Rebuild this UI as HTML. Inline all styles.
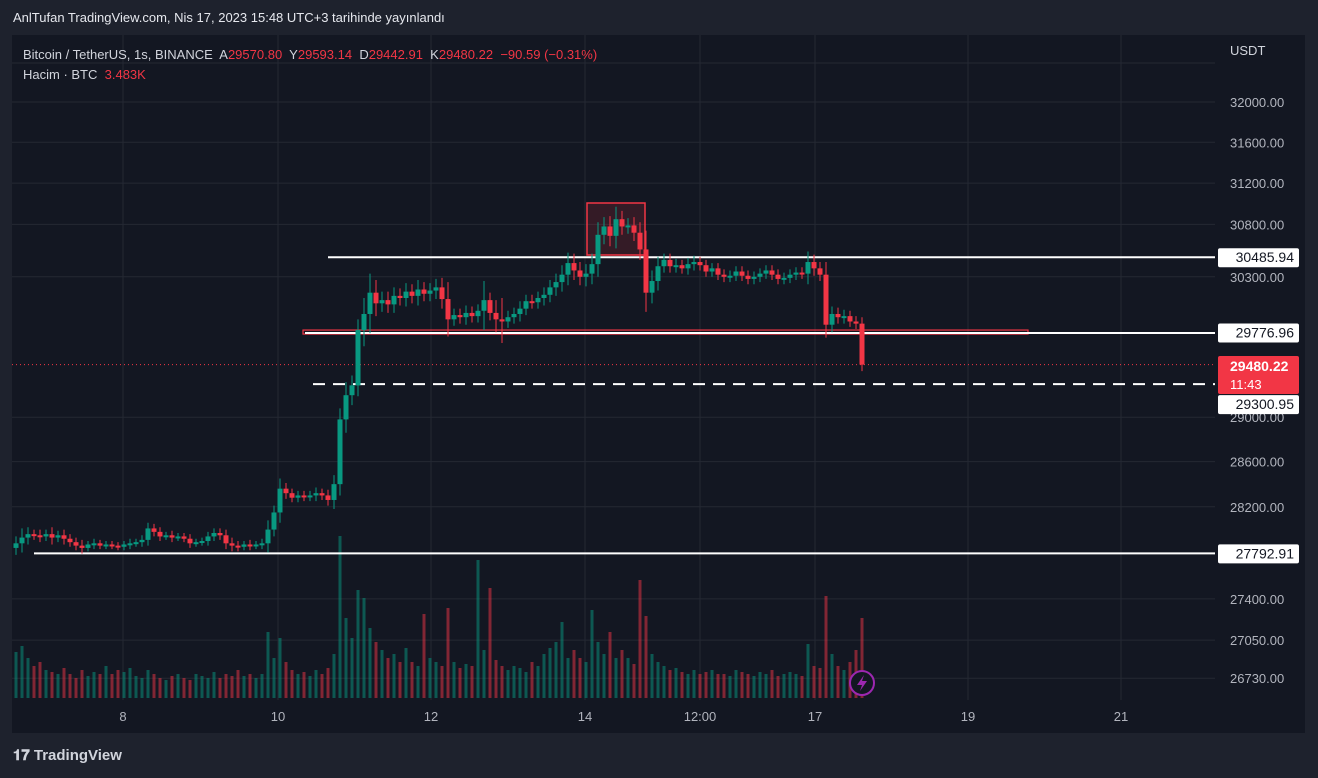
<!DOCTYPE html>
<html><head><meta charset="utf-8">
<style>
body{margin:0;width:1318px;height:778px;background:#1e222d;overflow:hidden;font-family:"Liberation Sans",sans-serif;}
#title{position:absolute;left:13px;top:10px;color:#e6e8ee;font-size:13px;}
#foot{position:absolute;left:13px;top:747px;color:#d1d4dc;font-size:15px;font-weight:bold;}
svg{position:absolute;left:0;top:0;}
</style></head><body>
<div id="title">AnlTufan TradingView.com, Nis 17, 2023 15:48 UTC+3 tarihinde yayınlandı</div>
<div id="foot"><span style="font-weight:900">𝟏𝟕</span> TradingView</div>
<svg id="c" width="1318" height="778"></svg>
<script>
const closes=[27880,27930,27960,27950,27940,27960,27930,27950,27920,27890,27860,27840,27870,27880,27860,27870,27860,27850,27870,27880,27890,27910,28010,27980,27940,27950,27930,27940,27920,27880,27890,27900,27940,27970,27950,27880,27860,27850,27870,27860,27870,27880,28000,28150,28360,28320,28280,28300,28290,28300,28320,28300,28260,28400,28980,29200,29290,29800,29950,30150,30050,30080,30040,30120,30100,30160,30120,30180,30140,30170,30200,30090,29900,29940,29920,29960,29930,29980,30080,29960,29900,29880,29920,29950,30000,30070,30060,30100,30130,30200,30250,30320,30430,30360,30300,30330,30420,30700,30780,30690,30850,30780,30790,30720,30560,30150,30260,30400,30460,30400,30410,30380,30420,30440,30410,30350,30380,30320,30300,30310,30350,30310,30280,30300,30330,30360,30320,30280,30290,30320,30340,30330,30440,30380,30320,29850,29950,29920,29930,29880,29860,29480];
const wicks=[60,80,60,40,50,40,60,40,50,40,40,50,30,40,30,30,30,30,30,40,30,40,50,40,40,30,40,30,30,40,30,30,40,40,40,50,50,40,30,40,30,40,80,60,90,50,40,40,40,40,50,40,50,80,100,120,90,100,150,180,120,80,80,80,70,80,70,90,70,70,80,90,160,60,60,70,60,60,180,70,120,200,60,60,70,60,60,60,70,70,80,90,100,90,80,90,100,120,90,100,120,80,70,80,100,180,100,90,60,60,60,50,60,60,50,50,50,50,50,50,50,50,50,50,50,50,50,50,50,50,50,50,100,70,60,120,70,60,60,50,50,60];
const volumes=[2.3,2.6,2.0,1.6,1.8,1.4,1.3,1.2,1.5,1.2,1.0,1.4,1.1,1.3,1.2,1.6,1.2,1.4,1.3,1.5,1.1,1.0,1.4,1.2,1.0,0.9,1.1,1.2,1.0,0.9,1.2,1.1,1.0,1.3,1.0,1.2,1.1,1.4,1.1,1.2,1.0,1.2,3.3,2.0,3.0,1.8,1.4,1.2,1.3,1.1,1.4,1.2,1.5,2.2,8.1,4.0,3.0,5.4,5.0,3.5,2.8,2.4,2.0,2.2,1.8,2.5,1.8,1.6,4.2,2.0,1.8,1.6,4.5,1.8,1.5,1.7,1.6,6.9,2.4,5.5,1.9,1.6,1.4,1.6,1.5,1.3,1.8,1.6,2.2,2.5,2.8,3.8,2.0,2.4,2.0,1.8,4.4,2.8,2.2,3.3,2.0,2.4,2.0,1.7,5.9,4.1,2.2,1.8,1.6,1.4,1.5,1.3,1.2,1.4,1.2,1.3,1.4,1.2,1.2,1.1,1.4,1.3,1.2,1.1,1.3,1.2,1.4,1.1,1.2,1.3,1.2,1.1,2.7,1.6,1.5,5.1,2.2,1.6,1.4,1.8,2.4,4.0];
const priceTicks=[32000,31600,31200,30800,30300,29000,28600,28200,27400,27050,26730];
const timeLabels=["8","10","12","14","12:00","17","19","21"];
const timeX=[123,278,431,585,700,815,968,1121];
const levels=[30485.94,29776.96,29300.95,27792.91];
const lastPrice=29480.22;

const NS="http://www.w3.org/2000/svg",svg=document.getElementById('c');
const y=p=>102+Math.log(32000/p)*3202;
const x=i=>16+i*6;
const vy=v=>698-v*20;
function mk(t,a,parent){const e=document.createElementNS(NS,t);for(const k in a)e.setAttribute(k,a[k]);(parent||svg).appendChild(e);return e;}
const UP="#089981",DN="#f23645";
let e=mk('rect',{x:12,y:35,width:1293,height:698,fill:"#131722"});

mk('line',{x1:12,x2:1215,y1:63,y2:63,stroke:"#242833"});
priceTicks.forEach(p=>{mk('line',{x1:12,x2:1215,y1:y(p),y2:y(p),stroke:"#242833"});
 const t=mk('text',{x:1230,y:y(p)+5,fill:"#b2b5be","font-size":13});t.textContent=p.toFixed(2);
 });
timeLabels.forEach((s,i)=>{mk('line',{x1:timeX[i],x2:timeX[i],y1:35,y2:700,stroke:"#242833"});
 const t=mk('text',{x:timeX[i],y:721,fill:"#b2b5be","font-size":13,"text-anchor":"middle"});t.textContent=s;
 });
let u=mk('text',{x:1230,y:55,fill:"#d1d4dc","font-size":13});u.textContent="USDT";

// volumes
volumes.forEach((v,i)=>{const o=i?closes[i-1]:27840,up=closes[i]>=o;
 const r=mk('rect',{x:x(i)-1.5,y:vy(v),width:3,height:698-vy(v),fill:up?"rgba(8,153,129,0.5)":"rgba(242,54,69,0.5)"});
 });
// levels
const yl=levels.map(y);
mk('rect',{x:587,y:203,width:58,height:52,fill:"rgba(242,54,69,0.15)",stroke:DN,"stroke-width":1.5});
mk('line',{x1:12,x2:1215,y1:y(lastPrice),y2:y(lastPrice),stroke:DN,"stroke-dasharray":"1 3"});
mk('line',{x1:328,x2:1215,y1:yl[0],y2:yl[0],stroke:"#fff","stroke-width":2});
mk('rect',{x:303,y:yl[1]-2.5,width:725,height:4,fill:"none",stroke:DN,"stroke-width":1.2});
mk('line',{x1:305,x2:1215,y1:yl[1]+0.5,y2:yl[1]+0.5,stroke:"#fff","stroke-width":2});
mk('line',{x1:313,x2:1215,y1:yl[2],y2:yl[2],stroke:"#fff","stroke-width":2,"stroke-dasharray":"12 8"});
mk('line',{x1:34,x2:1215,y1:yl[3],y2:yl[3],stroke:"#fff","stroke-width":2});
// candles
closes.forEach((c,i)=>{const o=i?closes[i-1]:27840,up=c>=o,col=up?UP:DN;
 const hi=Math.max(o,c)+wicks[i],lo=Math.min(o,c)-wicks[i];
 const g=mk('g',{});
 
 mk('line',{x1:x(i),x2:x(i),y1:y(hi),y2:y(lo),stroke:col,"stroke-width":1},g);
 const t=Math.min(y(o),y(c)),h=Math.max(2,Math.abs(y(o)-y(c)));
 mk('rect',{x:x(i)-2.5,y:t,width:5,height:h,fill:col},g);});
// level labels
levels.forEach((p,i)=>{const g=mk('g',{});
 const off=i==2?20:0;
 mk('rect',{x:1218,y:yl[i]-9+off,width:81,height:19,fill:"#fff",rx:2},g);
 const t=mk('text',{x:1294,y:yl[i]+5+off,fill:"#131722","font-size":14,"text-anchor":"end"},g);t.textContent=p.toFixed(2);});
const lp=mk('g',{});
mk('rect',{x:1218,y:356,width:81,height:38,fill:DN,rx:2},lp);
let t1=mk('text',{x:1230,y:371,fill:"#fff","font-size":14,"font-weight":"bold"},lp);t1.textContent=lastPrice.toFixed(2);
let t2=mk('text',{x:1230,y:389,fill:"#fff","font-size":13},lp);t2.textContent="11:43";
// lightning
const lg=mk('g',{});
mk('circle',{cx:862,cy:683,r:12,fill:"#131722",stroke:"#9c27b0","stroke-width":2},lg);
mk('path',{d:"M864 675 L857 685 L862 685 L860 691 L867 681 L862 681 Z",fill:"#9c27b0"},lg);
// legend
const L=mk('text',{x:23,y:59,"font-size":13,fill:"#d1d4dc"});
L.innerHTML='Bitcoin / TetherUS, 1s, BINANCE  A<tspan fill="#f23645">29570.80</tspan>  Y<tspan fill="#f23645">29593.14</tspan>  D<tspan fill="#f23645">29442.91</tspan>  K<tspan fill="#f23645">29480.22</tspan>  <tspan fill="#f23645">−90.59 (−0.31%)</tspan>';
L.style.whiteSpace='pre';
const V=mk('text',{x:23,y:79,"font-size":13,fill:"#d1d4dc"});
V.innerHTML='Hacim · BTC  <tspan fill="#f23645">3.483K</tspan>';V.style.whiteSpace='pre';
</script>
</body></html>
